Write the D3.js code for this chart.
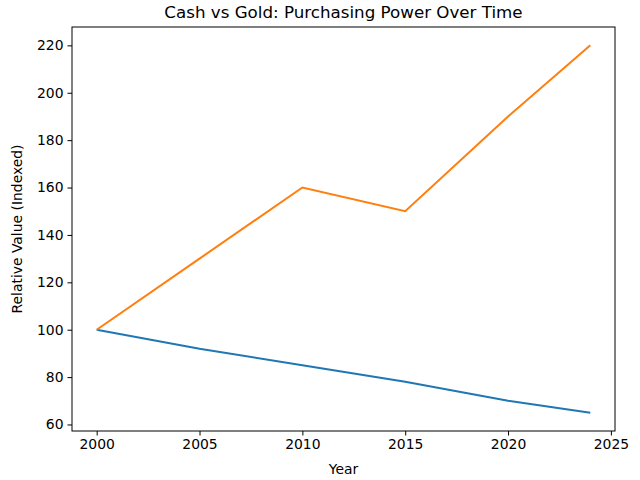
<!DOCTYPE html>
<html>
<head>
<meta charset="utf-8">
<script src="https://cdn.jsdelivr.net/npm/d3@7"></script>
<style>
  body { margin: 0; background: #fff; }
  svg { font-family: "DejaVu Sans", sans-serif; }
</style>
</head>
<body>
<svg id="drawing_region"></svg>
<script>
const years = [2000, 2005, 2010, 2015, 2020, 2024];
const cash = [100, 92, 85, 78, 70, 65];
const gold = [100, 130, 160, 150, 190, 220];
const xTicks = [2000, 2005, 2010, 2015, 2020, 2025];
const yTicks = [60, 80, 100, 120, 140, 160, 180, 200, 220];

const width = 640, height = 480;
const margin = {top: 27, right: 25, bottom: 49, left: 72};
const w = width - margin.left - margin.right;
const h = height - margin.top - margin.bottom;

const svg = d3.select('#drawing_region')
    .attr('width', width)
    .attr('height', height);

// matplotlib style 5% padding
const xPad = (d3.max(years) - d3.min(years)) * 0.05;
const allY = cash.concat(gold);
const yPad = (d3.max(allY) - d3.min(allY)) * 0.05;

const x = d3.scaleLinear()
    .domain([d3.min(years) - xPad, d3.max(years) + xPad])
    .range([0, w]);
const y = d3.scaleLinear()
    .domain([d3.min(allY) - yPad, d3.max(allY) + yPad])
    .range([h, 0]);

const g = svg.append('g')
    .attr('transform', `translate(${margin.left},${margin.top})`);

const line = d3.line()
    .x((d, i) => x(years[i]))
    .y(d => y(d));

g.append('path')
    .datum(cash)
    .attr('d', line)
    .attr('fill', 'none')
    .attr('stroke', '#1f77b4')
    .attr('stroke-width', 2);

g.append('path')
    .datum(gold)
    .attr('d', line)
    .attr('fill', 'none')
    .attr('stroke', '#ff7f0e')
    .attr('stroke-width', 2);

const xAxis = g.append('g')
    .attr('transform', `translate(0,${h})`)
    .call(d3.axisBottom(x).tickValues(xTicks).tickFormat(d3.format('d')).tickSize(4.5).tickPadding(4));
const yAxis = g.append('g')
    .call(d3.axisLeft(y).tickValues(yTicks).tickSize(4.5).tickPadding(4));

[xAxis, yAxis].forEach(a => {
    a.selectAll('text').attr('font-size', 13.9).attr('fill', '#000').attr('font-family', '"DejaVu Sans", sans-serif');
    a.selectAll('line').attr('stroke', '#000');
    a.select('.domain').remove();
});

// frame
g.append('rect')
    .attr('width', w)
    .attr('height', h)
    .attr('fill', 'none')
    .attr('stroke', '#000')
    .attr('stroke-width', 1);

svg.append('text')
    .attr('x', margin.left + w / 2)
    .attr('y', 18)
    .attr('text-anchor', 'middle')
    .attr('font-size', 16.7)
    .text('Cash vs Gold: Purchasing Power Over Time');

svg.append('text')
    .attr('x', margin.left + w / 2)
    .attr('y', 474)
    .attr('text-anchor', 'middle')
    .attr('font-size', 13.9)
    .text('Year');

svg.append('text')
    .attr('transform', `translate(22,${margin.top + h / 2}) rotate(-90)`)
    .attr('text-anchor', 'middle')
    .attr('font-size', 13.9)
    .text('Relative Value (Indexed)');
</script>
</body>
</html>
